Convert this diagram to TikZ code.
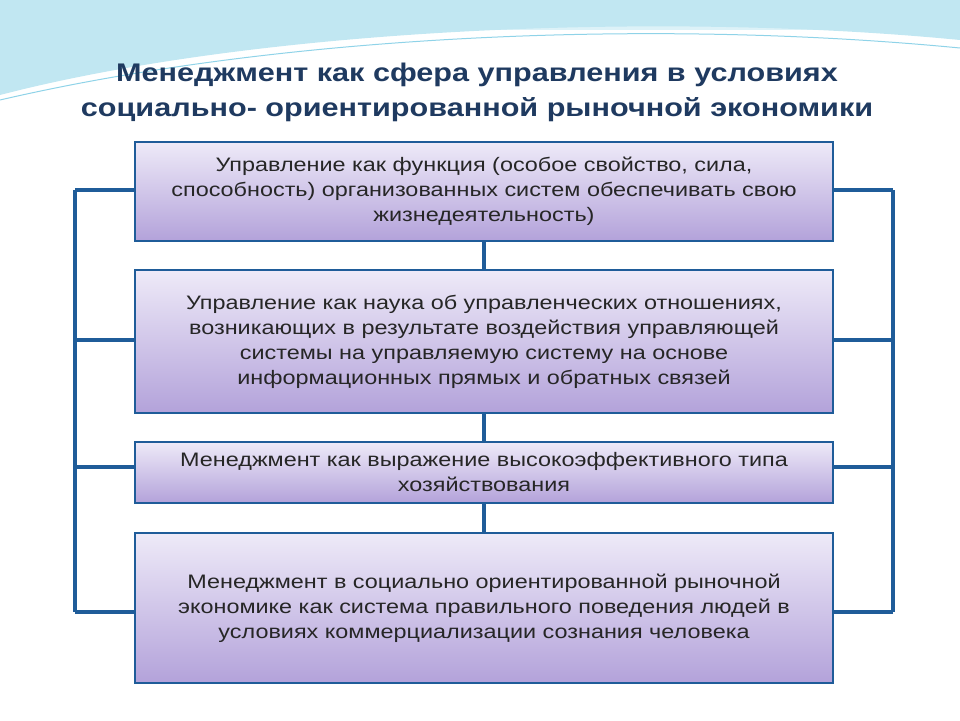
\documentclass[tikz,border=0pt]{standalone}
\usepackage{fontspec}
\setmainfont{Liberation Sans}
\newfontfamily\widesans[FakeStretch=1.2]{Liberation Sans}
\usetikzlibrary{positioning}
\definecolor{frame}{HTML}{1F5C99}
\definecolor{lavtop}{HTML}{EEEAF8}
\definecolor{lavbot}{HTML}{B3A2DA}
\definecolor{titleblue}{HTML}{1F3A60}
\definecolor{sea}{HTML}{8FD3E8}
\begin{document}
\begin{tikzpicture}[x=1pt,y=-1pt]
    \tikzstyle{stage}=[draw=frame,line width=2.6pt,top color=lavtop,bottom color=lavbot,
      minimum width=698pt,align=center,text width=690pt,
      font=\widesans\fontsize{19.5}{25}\selectfont,text=black!85,inner sep=0pt]
    \tikzstyle{link}=[frame,line width=3.4pt]
    \useasboundingbox (0,0) rectangle (960,720);
    % wave at the top
    \fill[sea!30] (0,0) rectangle (960,30);
    \fill[sea!55] (0,0) -- (0,95) .. controls (250,30) and (650,10) .. (960,40) -- (960,0) -- cycle;
    \fill[white] (0,105) .. controls (300,40) and (650,25) .. (960,55) -- (960,720) -- (0,720) -- cycle;
    \draw[sea,line width=1pt] (0,100) .. controls (280,35) and (650,18) .. (960,48);

    \node[font=\widesans\fontsize{25.5}{35}\selectfont\bfseries,text=titleblue,align=center] (title) at (477,92)
      {Менеджмент как сфера управления в условиях\\социально- ориентированной рыночной экономики};

    \node[stage,minimum height=99pt] (func) at (484,191.5)
      {Управление как функция (особое свойство, сила,\\способность) организованных систем обеспечивать свою\\жизнедеятельность)};
    \node[stage,minimum height=143pt] (science) at (484,341.5)
      {Управление как наука об управленческих отношениях,\\возникающих в результате воздействия управляющей\\системы на управляемую систему на основе\\информационных прямых и обратных связей};
    \node[stage,minimum height=61pt] (express) at (484,472.5)
      {Менеджмент как выражение высокоэффективного типа\\хозяйствования};
    \node[stage,minimum height=150pt] (social) at (484,608)
      {Менеджмент в социально ориентированной рыночной\\экономике как система правильного поведения людей в\\условиях коммерциализации сознания человека};

    % spine between the boxes
    \draw[link] (func.south) -- (science.north);
    \draw[link] (science.south) -- (express.north);
    \draw[link] (express.south) -- (social.north);

    % side brackets
    \coordinate (ltop) at (75,190);
    \coordinate (lbot) at (75,612);
    \coordinate (rtop) at (893,190);
    \coordinate (rbot) at (893,612);
    \draw[link] (ltop) -- (lbot);
    \draw[link] (rtop) -- (rbot);
    \foreach \stg/\yy in {func/190,science/340,express/467,social/612}{
      \draw[link] (75,\yy) -- (\stg.west |- 0,\yy);
      \draw[link] (893,\yy) -- (\stg.east |- 0,\yy);
    }
\end{tikzpicture}
\end{document}
